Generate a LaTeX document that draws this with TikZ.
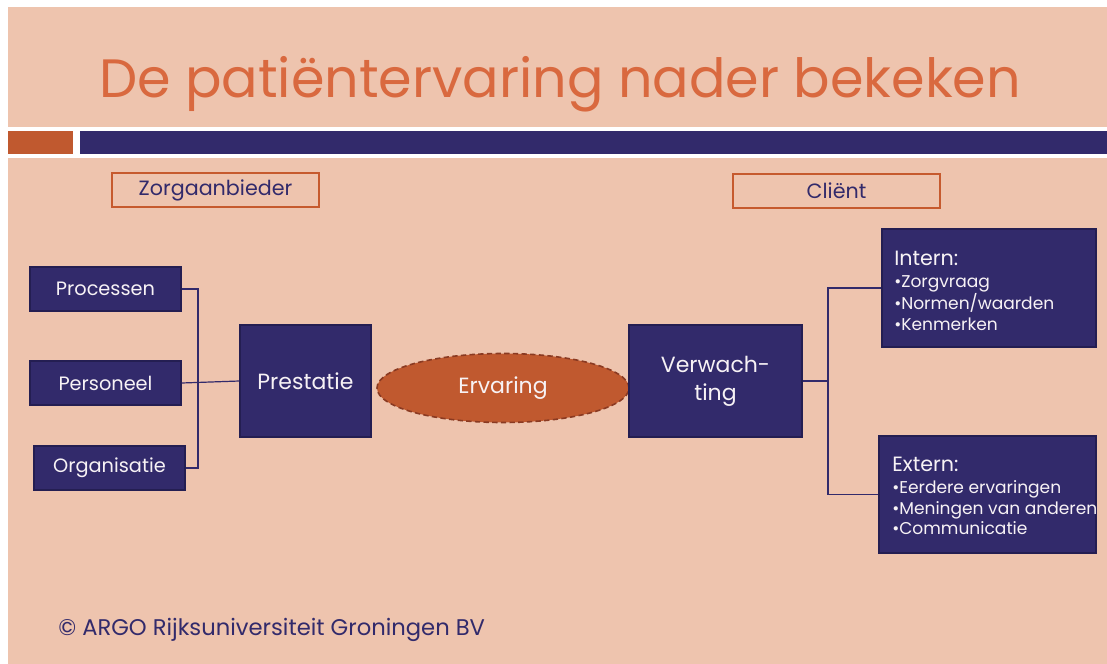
\documentclass[tikz,border=0pt]{standalone}
\usepackage{fontspec}
\setmainfont{Poppins}
\usetikzlibrary{shapes.geometric}
\definecolor{peach}{HTML}{EEC4AE}
\definecolor{titleor}{HTML}{D9693F}
\definecolor{rust}{HTML}{C0592F}
\definecolor{navy}{HTML}{322A6B}
\definecolor{navyedge}{HTML}{241E52}
\definecolor{dashc}{HTML}{8A3A22}
\definecolor{boxor}{HTML}{C65A2E}
\definecolor{wtext}{HTML}{F7F2F5}
\tikzset{
  navybox/.style={draw=navyedge, line width=0.9pt, fill=navy, text=wtext, inner sep=0pt},
  smallbox/.style={navybox, minimum width=113.25pt, minimum height=33pt, font=\fontsize{14.5}{17}\selectfont},
  bigbox/.style={navybox, minimum width=98.25pt, minimum height=84pt, font=\fontsize{16.5}{21}\selectfont, align=center},
  labelbox/.style={draw=boxor, line width=1.5pt, text=navy, minimum width=155.25pt, minimum height=25.5pt, inner sep=0pt, font=\fontsize{15.5}{17}\selectfont},
  conn/.style={draw=navy, line width=0.9pt},
  listtxt/.style={anchor=north west, align=left, text=wtext, inner sep=0pt, font=\fontsize{12.8}{15.4}\selectfont}
}
\begin{document}
\begin{tikzpicture}[x=0.75pt,y=-0.75pt]
\useasboundingbox (0,0) rectangle (1107,664);
\fill[white] (0,0) rectangle (1107,664);
\fill[peach] (8,7) rectangle (1107,127);
\fill[rust] (8,131) rectangle (73,154);
\fill[navy] (80,131) rectangle (1107,154);
\fill[peach] (8,158) rectangle (1107,664);

\node[anchor=base, text=titleor, inner sep=0pt, font=\fontsize{40.5}{44}\selectfont] (title) at (560,97) {De patiëntervaring nader bekeken};

\node[labelbox] (zorg) at (215.5,190) {Zorgaanbieder};
\node[labelbox] (client) at (836.5,190.5) {Cliënt};

\node[smallbox] (proc) at (105.5,289) {Processen};
\node[smallbox] (pers) at (105.5,383) {Personeel};
\node[smallbox] (org) at (109.5,468) {Organisatie};

\node[bigbox] (prest) at (305.5,381) {Prestatie};
\node[ellipse, draw=dashc, dashed, dash pattern=on 4pt off 2.5pt, line width=1.2pt, fill=rust, text=wtext, minimum width=189pt, minimum height=51.75pt, inner sep=0pt, font=\fontsize{16.5}{18}\selectfont] (erv) at (503,388) {Ervaring};
\node[bigbox, minimum width=129.75pt] (verw) at (715.5,381) {Verwach-\\ting};

\node[navybox, minimum width=160.5pt, minimum height=88.5pt] (intern) at (989,288) {};
\node[listtxt] (interntxt) at (894,251) {{\fontsize{15.5}{18}\selectfont Intern:}\\[1pt]•Zorgvraag\\•Normen/waarden\\•Kenmerken};
\node[navybox, minimum width=162.75pt, minimum height=87.75pt] (extern) at (987.5,494.5) {};
\node[listtxt] (externtxt) at (892,457) {{\fontsize{15.5}{18}\selectfont Extern:}\\[1pt]•Eerdere ervaringen\\•Meningen van anderen\\•Communicatie};

\coordinate (lj) at (198,289);
\draw[conn] (proc.east) -- (lj) |- (org.east);
\draw[conn] (pers.east) -- (prest.west);
\coordinate (rj) at (828,381);
\draw[conn] (verw.east) -- (rj);
\draw[conn] (intern.west) -| (rj) |- (extern.west);

\node[anchor=base west, text=navy, inner sep=0pt, font=\fontsize{17}{20}\selectfont] (foot) at (58,635) {© ARGO Rijksuniversiteit Groningen BV};
\end{tikzpicture}
\end{document}
